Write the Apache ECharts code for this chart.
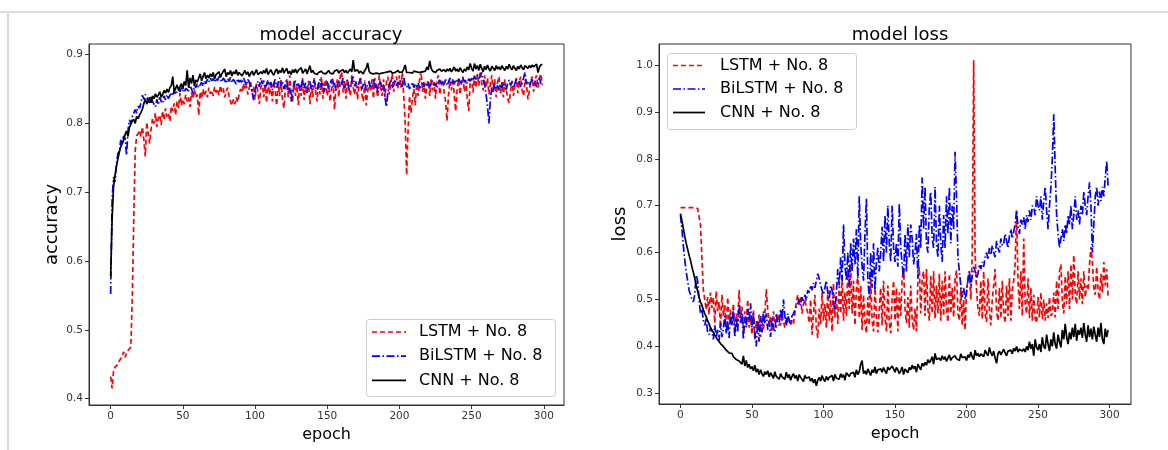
<!DOCTYPE html>
<html><head><meta charset="utf-8">
<script src="https://cdn.jsdelivr.net/npm/echarts@6/dist/echarts.min.js"></script>
<style>html,body{margin:0;padding:0;background:#fff}#c{width:1168px;height:450px}</style>
</head><body><div id="c"></div>
<script>
const seriesNames = ['LSTM + No. 8', 'BiLSTM + No. 8', 'CNN + No. 8'];
const xTicks = [0, 50, 100, 150, 200, 250, 300];
const accTicks = [0.4, 0.5, 0.6, 0.7, 0.8, 0.9];
const lossTicks = [0.3, 0.4, 0.5, 0.6, 0.7, 0.8, 0.9, 1.0];

const accLSTM = [
0.432,0.415,0.440,0.446,0.445,0.450,0.455,0.458,0.462,0.468,
0.460,0.466,0.470,0.472,0.475,0.550,0.660,0.760,0.782,0.785,
0.790,0.781,0.795,0.776,0.752,0.802,0.785,0.771,0.792,0.807,
0.800,0.815,0.795,0.808,0.812,0.798,0.818,0.805,0.822,0.810,
0.815,0.803,0.825,0.818,0.829,0.812,0.832,0.822,0.844,0.826,
0.835,0.828,0.842,0.832,0.838,0.824,0.845,0.836,0.849,0.838,
0.842,0.812,0.846,0.836,0.850,0.840,0.847,0.838,0.852,0.843,
0.848,0.840,0.853,0.845,0.850,0.841,0.855,0.846,0.851,0.838,
0.846,0.852,0.840,0.832,0.826,0.835,0.828,0.838,0.831,0.843,
0.850,0.845,0.858,0.849,0.855,0.842,0.852,0.860,0.846,0.854,
0.835,0.858,0.845,0.828,0.852,0.862,0.838,0.855,0.830,0.860,
0.842,0.856,0.832,0.861,0.847,0.826,0.858,0.840,0.863,0.835,
0.822,0.850,0.864,0.838,0.870,0.845,0.830,0.862,0.840,0.855,
0.827,0.858,0.840,0.866,0.834,0.853,0.845,0.862,0.828,0.856,
0.838,0.866,0.846,0.832,0.860,0.842,0.868,0.836,0.855,0.864,
0.840,0.858,0.832,0.850,0.866,0.820,0.852,0.864,0.838,0.868,
0.875,0.845,0.862,0.836,0.865,0.850,0.840,0.870,0.852,0.842,
0.862,0.835,0.856,0.868,0.842,0.832,0.860,0.826,0.845,0.862,
0.846,0.864,0.836,0.866,0.850,0.838,0.870,0.852,0.840,0.864,
0.838,0.860,0.868,0.842,0.858,0.872,0.846,0.862,0.868,0.850,
0.870,0.852,0.875,0.840,0.800,0.725,0.790,0.840,0.815,0.836,
0.850,0.826,0.858,0.840,0.864,0.876,0.846,0.860,0.836,0.856,
0.862,0.840,0.866,0.848,0.860,0.836,0.864,0.870,0.842,0.856,
0.864,0.845,0.832,0.804,0.842,0.862,0.848,0.866,0.840,0.818,
0.850,0.864,0.842,0.860,0.868,0.846,0.862,0.836,0.818,0.858,
0.866,0.845,0.870,0.852,0.872,0.855,0.876,0.858,0.848,0.870,
0.852,0.866,0.842,0.858,0.870,0.846,0.864,0.838,0.860,0.868,
0.844,0.860,0.838,0.864,0.850,0.836,0.830,0.848,0.862,0.840,
0.856,0.866,0.844,0.860,0.868,0.848,0.840,0.864,0.856,0.835,
0.848,0.862,0.868,0.846,0.864,0.870,0.852,0.866,0.872,0.856];

const accBiLSTM = [
0.552,0.690,0.722,0.715,0.740,0.756,0.760,0.776,0.770,0.782,
0.778,0.754,0.790,0.805,0.800,0.810,0.812,0.820,0.815,0.825,
0.822,0.830,0.841,0.835,0.842,0.838,0.836,0.830,0.840,0.832,
0.828,0.824,0.835,0.827,0.838,0.832,0.829,0.840,0.834,0.842,
0.836,0.838,0.845,0.840,0.848,0.842,0.844,0.850,0.846,0.852,
0.848,0.845,0.851,0.853,0.847,0.855,0.850,0.844,0.856,0.852,
0.858,0.852,0.856,0.860,0.854,0.862,0.858,0.864,0.860,0.866,
0.862,0.865,0.860,0.866,0.862,0.868,0.864,0.860,0.866,0.863,
0.858,0.865,0.861,0.867,0.859,0.864,0.862,0.857,0.865,0.860,
0.863,0.858,0.866,0.861,0.855,0.864,0.860,0.852,0.846,0.834,
0.848,0.856,0.861,0.853,0.866,0.858,0.862,0.851,0.857,0.863,
0.855,0.860,0.849,0.858,0.864,0.852,0.859,0.866,0.854,0.861,
0.850,0.858,0.863,0.845,0.852,0.832,0.849,0.857,0.862,0.853,
0.858,0.847,0.855,0.863,0.851,0.859,0.844,0.856,0.861,0.850,
0.857,0.863,0.852,0.848,0.858,0.864,0.853,0.860,0.846,0.855,
0.861,0.850,0.857,0.864,0.852,0.859,0.848,0.856,0.862,0.853,
0.858,0.866,0.851,0.857,0.863,0.849,0.856,0.862,0.868,0.854,
0.860,0.852,0.858,0.865,0.850,0.857,0.862,0.848,0.855,0.861,
0.853,0.859,0.864,0.851,0.857,0.846,0.854,0.860,0.849,0.856,
0.838,0.824,0.845,0.856,0.862,0.851,0.858,0.864,0.855,0.860,
0.857,0.862,0.853,0.868,0.856,0.852,0.858,0.850,0.855,0.860,
0.852,0.857,0.854,0.859,0.851,0.856,0.861,0.853,0.858,0.855,
0.860,0.853,0.857,0.862,0.855,0.858,0.851,0.859,0.863,0.856,
0.861,0.857,0.864,0.855,0.860,0.866,0.858,0.862,0.857,0.864,
0.859,0.865,0.861,0.857,0.866,0.860,0.863,0.858,0.865,0.861,
0.867,0.862,0.868,0.864,0.870,0.865,0.869,0.874,0.863,0.858,
0.842,0.826,0.800,0.835,0.852,0.845,0.858,0.850,0.855,0.848,
0.857,0.852,0.860,0.854,0.849,0.858,0.863,0.855,0.860,0.852,
0.858,0.864,0.856,0.861,0.853,0.859,0.866,0.874,0.857,0.862,
0.855,0.860,0.864,0.857,0.862,0.853,0.860,0.866,0.858,0.855];

const accCNN = [
0.578,0.660,0.708,0.724,0.738,0.748,0.758,0.766,0.771,0.776,
0.784,0.789,0.781,0.794,0.799,0.803,0.806,0.800,0.810,0.807,
0.812,0.816,0.821,0.829,0.836,0.828,0.833,0.838,0.830,0.840,
0.836,0.843,0.838,0.841,0.846,0.838,0.842,0.848,0.844,0.850,
0.845,0.852,0.855,0.868,0.846,0.851,0.856,0.848,0.853,0.858,
0.850,0.861,0.855,0.877,0.852,0.866,0.858,0.870,0.855,0.863,
0.860,0.866,0.872,0.862,0.868,0.874,0.865,0.870,0.866,0.872,
0.868,0.874,0.865,0.871,0.869,0.875,0.867,0.872,0.870,0.879,
0.868,0.874,0.871,0.877,0.869,0.875,0.872,0.878,0.870,0.874,
0.876,0.869,0.873,0.877,0.871,0.875,0.868,0.873,0.876,0.870,
0.874,0.878,0.871,0.869,0.875,0.872,0.877,0.873,0.880,0.871,
0.875,0.878,0.873,0.870,0.876,0.879,0.872,0.877,0.874,0.881,
0.873,0.877,0.880,0.872,0.876,0.871,0.878,0.874,0.879,0.873,
0.877,0.875,0.881,0.873,0.876,0.879,0.872,0.878,0.884,0.874,
0.877,0.873,0.875,0.871,0.874,0.872,0.876,0.873,0.875,0.872,
0.874,0.877,0.873,0.875,0.872,0.876,0.874,0.878,0.873,0.876,
0.875,0.878,0.874,0.877,0.873,0.876,0.879,0.875,0.892,0.876,
0.874,0.878,0.873,0.876,0.875,0.872,0.877,0.880,0.888,0.876,
0.873,0.875,0.872,0.874,0.873,0.875,0.872,0.874,0.873,0.875,
0.874,0.873,0.875,0.874,0.876,0.873,0.875,0.874,0.873,0.877,
0.874,0.876,0.875,0.879,0.885,0.874,0.876,0.874,0.875,0.873,
0.876,0.874,0.875,0.877,0.874,0.876,0.875,0.874,0.876,0.882,
0.878,0.891,0.880,0.876,0.878,0.874,0.877,0.875,0.879,0.876,
0.874,0.878,0.875,0.879,0.876,0.880,0.875,0.878,0.882,0.876,
0.879,0.875,0.881,0.877,0.874,0.879,0.876,0.882,0.878,0.887,
0.880,0.876,0.887,0.879,0.884,0.877,0.886,0.880,0.875,0.883,
0.878,0.885,0.879,0.876,0.883,0.880,0.877,0.884,0.879,0.882,
0.878,0.884,0.880,0.877,0.883,0.879,0.886,0.881,0.878,0.884,
0.880,0.877,0.883,0.879,0.885,0.881,0.878,0.884,0.882,0.880,
0.884,0.881,0.885,0.882,0.883,0.886,0.874,0.882,0.885,0.886];

const lossLSTM = [
0.696,0.696,0.696,0.696,0.696,0.696,0.696,0.696,0.696,0.696,
0.696,0.695,0.694,0.690,0.660,0.590,0.520,0.500,0.478,0.505,
0.468,0.515,0.482,0.505,0.450,0.518,0.475,0.495,0.440,0.510,
0.465,0.488,0.430,0.505,0.455,0.478,0.445,0.492,0.428,0.470,
0.452,0.520,0.460,0.485,0.435,0.475,0.450,0.500,0.440,0.462,
0.425,0.478,0.415,0.455,0.440,0.468,0.420,0.458,0.435,0.470,
0.522,0.480,0.445,0.465,0.432,0.475,0.450,0.440,0.468,0.455,
0.445,0.470,0.452,0.440,0.462,0.450,0.458,0.445,0.455,0.448,
0.470,0.495,0.510,0.488,0.505,0.470,0.490,0.500,0.482,0.472,
0.450,0.500,0.425,0.470,0.510,0.440,0.418,0.480,0.448,0.515,
0.455,0.490,0.440,0.520,0.455,0.500,0.432,0.535,0.462,0.510,
0.448,0.530,0.470,0.550,0.455,0.515,0.465,0.565,0.480,0.575,
0.470,0.540,0.445,0.520,0.555,0.460,0.530,0.435,0.510,0.450,
0.428,0.505,0.445,0.545,0.455,0.432,0.525,0.465,0.430,0.480,
0.525,0.445,0.540,0.462,0.432,0.530,0.450,0.428,0.505,0.540,
0.455,0.525,0.432,0.515,0.465,0.545,0.567,0.480,0.450,0.505,
0.440,0.530,0.458,0.435,0.480,0.432,0.540,0.570,0.470,0.545,
0.560,0.465,0.565,0.480,0.455,0.550,0.470,0.560,0.460,0.530,
0.470,0.555,0.455,0.540,0.465,0.560,0.480,0.452,0.555,0.470,
0.525,0.462,0.545,0.562,0.470,0.455,0.525,0.445,0.500,0.435,
0.520,0.545,0.560,0.500,0.600,1.010,0.600,0.520,0.480,0.465,
0.540,0.458,0.560,0.470,0.452,0.545,0.480,0.445,0.500,0.530,
0.565,0.475,0.455,0.525,0.460,0.540,0.470,0.450,0.530,0.465,
0.545,0.455,0.520,0.540,0.575,0.690,0.540,0.480,0.560,0.465,
0.630,0.490,0.470,0.545,0.460,0.525,0.455,0.510,0.460,0.450,
0.505,0.462,0.515,0.458,0.500,0.455,0.492,0.460,0.505,0.465,
0.470,0.515,0.462,0.540,0.480,0.560,0.575,0.495,0.470,0.550,
0.490,0.560,0.480,0.575,0.500,0.595,0.510,0.490,0.560,0.500,
0.545,0.490,0.560,0.505,0.530,0.520,0.575,0.612,0.580,0.525,
0.510,0.570,0.520,0.500,0.555,0.515,0.580,0.530,0.565,0.505];

const lossBiLSTM = [
0.680,0.650,0.615,0.585,0.560,0.540,0.520,0.510,0.500,0.495,
0.510,0.552,0.540,0.500,0.470,0.480,0.455,0.445,0.460,0.430,
0.425,0.440,0.432,0.415,0.445,0.420,0.435,0.412,0.450,0.420,
0.440,0.465,0.428,0.455,0.418,0.470,0.445,0.480,0.420,0.460,
0.430,0.490,0.450,0.470,0.415,0.462,0.440,0.480,0.455,0.492,
0.440,0.470,0.425,0.400,0.455,0.410,0.465,0.430,0.475,0.448,
0.470,0.435,0.455,0.420,0.462,0.440,0.430,0.470,0.450,0.445,
0.480,0.455,0.500,0.465,0.445,0.470,0.455,0.448,0.465,0.470,
0.478,0.485,0.490,0.500,0.488,0.505,0.495,0.510,0.498,0.520,
0.515,0.530,0.520,0.535,0.525,0.540,0.555,0.545,0.530,0.520,
0.510,0.525,0.540,0.515,0.500,0.530,0.520,0.490,0.478,0.515,
0.565,0.530,0.590,0.540,0.660,0.575,0.540,0.600,0.530,0.620,
0.560,0.630,0.575,0.650,0.545,0.720,0.620,0.570,0.540,0.640,
0.715,0.545,0.505,0.600,0.525,0.620,0.520,0.580,0.610,0.560,
0.600,0.655,0.580,0.680,0.600,0.700,0.620,0.580,0.700,0.610,
0.580,0.620,0.570,0.705,0.610,0.575,0.545,0.640,0.560,0.660,
0.590,0.660,0.630,0.575,0.600,0.640,0.545,0.660,0.610,0.760,
0.650,0.740,0.620,0.600,0.700,0.730,0.630,0.610,0.740,0.620,
0.590,0.700,0.620,0.580,0.680,0.610,0.720,0.640,0.740,0.620,
0.700,0.650,0.815,0.720,0.590,0.560,0.530,0.505,0.525,0.500,
0.515,0.540,0.560,0.530,0.550,0.570,0.560,0.545,0.555,0.575,
0.565,0.580,0.570,0.590,0.600,0.585,0.610,0.595,0.615,0.600,
0.590,0.625,0.610,0.600,0.630,0.615,0.620,0.640,0.625,0.610,
0.635,0.650,0.630,0.645,0.660,0.690,0.655,0.640,0.670,0.660,
0.675,0.650,0.680,0.665,0.690,0.670,0.700,0.695,0.680,0.720,
0.700,0.690,0.720,0.670,0.710,0.740,0.690,0.650,0.700,0.740,
0.800,0.895,0.780,0.680,0.640,0.610,0.630,0.650,0.625,0.660,
0.640,0.680,0.660,0.700,0.650,0.680,0.720,0.670,0.690,0.660,
0.700,0.680,0.730,0.700,0.680,0.720,0.750,0.700,0.600,0.660,
0.720,0.740,0.700,0.730,0.710,0.740,0.720,0.760,0.795,0.740];

const lossCNN = [
0.683,0.668,0.652,0.635,0.620,0.608,0.595,0.584,0.570,0.558,
0.545,0.530,0.518,0.505,0.495,0.488,0.478,0.470,0.463,0.455,
0.448,0.440,0.436,0.430,0.424,0.420,0.414,0.410,0.406,0.402,
0.400,0.396,0.392,0.390,0.386,0.383,0.385,0.378,0.375,0.372,
0.374,0.369,0.366,0.362,0.380,0.358,0.370,0.355,0.362,0.352,
0.357,0.348,0.360,0.345,0.352,0.340,0.350,0.342,0.336,0.346,
0.340,0.348,0.335,0.344,0.338,0.332,0.346,0.336,0.340,0.330,
0.342,0.335,0.338,0.330,0.345,0.333,0.340,0.328,0.336,0.342,
0.332,0.338,0.326,0.340,0.334,0.330,0.325,0.338,0.332,0.328,
0.335,0.326,0.332,0.322,0.330,0.316,0.328,0.334,0.326,0.338,
0.330,0.325,0.336,0.328,0.334,0.330,0.338,0.326,0.340,0.332,
0.336,0.330,0.342,0.334,0.340,0.328,0.344,0.346,0.336,0.342,
0.338,0.345,0.334,0.350,0.340,0.346,0.362,0.370,0.342,0.348,
0.340,0.352,0.345,0.338,0.350,0.344,0.356,0.342,0.350,0.346,
0.352,0.345,0.355,0.348,0.342,0.356,0.350,0.346,0.358,0.352,
0.345,0.355,0.350,0.342,0.348,0.356,0.340,0.352,0.348,0.344,
0.355,0.350,0.360,0.352,0.358,0.345,0.362,0.356,0.350,0.364,
0.358,0.366,0.360,0.372,0.365,0.370,0.378,0.362,0.385,0.372,
0.368,0.375,0.370,0.380,0.372,0.378,0.368,0.375,0.382,0.370,
0.376,0.372,0.380,0.374,0.378,0.370,0.384,0.376,0.372,0.378,
0.370,0.382,0.376,0.388,0.378,0.372,0.392,0.380,0.385,0.378,
0.384,0.388,0.378,0.392,0.385,0.380,0.398,0.386,0.380,0.390,
0.375,0.364,0.385,0.390,0.382,0.388,0.394,0.386,0.380,0.390,
0.386,0.392,0.384,0.396,0.390,0.400,0.388,0.394,0.398,0.390,
0.395,0.388,0.400,0.392,0.410,0.395,0.405,0.380,0.415,0.398,
0.392,0.405,0.388,0.420,0.400,0.395,0.425,0.405,0.390,0.415,
0.400,0.430,0.405,0.395,0.425,0.410,0.398,0.435,0.415,0.448,
0.420,0.405,0.430,0.415,0.440,0.420,0.448,0.412,0.435,0.425,
0.440,0.418,0.450,0.425,0.410,0.445,0.420,0.438,0.415,0.442,
0.425,0.410,0.440,0.420,0.450,0.415,0.405,0.438,0.420,0.435];

const pairs = arr => arr.map((v, i) => [i, v]);
const FONT = 'DejaVu Sans';
const LW = 1.7;

const styles = [
  { color: '#ff0000', type: [5, 3] },
  { color: '#0000ff', type: [8, 2.5, 1.5, 2.5] },
  { color: '#000000', type: 'solid' }
];

function xAxisCfg(gridIndex, min, max) {
  return {
    type: 'value', gridIndex, min, max,
    name: 'epoch', nameLocation: 'middle', nameGap: 20,
    nameTextStyle: { fontFamily: FONT, fontSize: 16, color: '#000' },
    splitLine: { show: false },
    axisLine: { show: true, onZero: false, lineStyle: { color: '#333', width: 1 } },
    axisTick: { show: true, customValues: xTicks, length: 4, lineStyle: { color: '#333' } },
    axisLabel: { customValues: xTicks, fontFamily: FONT, fontSize: 10.5, color: '#333', margin: 6 }
  };
}
function yAxisCfg(gridIndex, min, max, ticks, name, gap) {
  return {
    type: 'value', gridIndex, min, max,
    name, nameLocation: 'middle', nameGap: gap,
    nameTextStyle: { fontFamily: FONT, fontSize: 18, color: '#000' },
    splitLine: { show: false },
    axisLine: { show: true, onZero: false, lineStyle: { color: '#333', width: 1 } },
    axisTick: { show: true, customValues: ticks, length: 4, lineStyle: { color: '#333' } },
    axisLabel: { customValues: ticks, fontFamily: FONT, fontSize: 10.5, color: '#333', margin: 6,
      formatter: v => v.toFixed(1) }
  };
}

const accSets = [accLSTM, accBiLSTM, accCNN];
const lossSets = [lossLSTM, lossBiLSTM, lossCNN];
const series = [];
accSets.forEach((arr, k) => series.push({
  type: 'line', name: seriesNames[k], xAxisIndex: 0, yAxisIndex: 0,
  data: pairs(arr), symbol: 'none', showSymbol: false, z: 2 + k,
  lineStyle: { color: styles[k].color, type: styles[k].type, width: LW },
  itemStyle: { color: styles[k].color }
}));
lossSets.forEach((arr, k) => series.push({
  type: 'line', name: seriesNames[k], xAxisIndex: 1, yAxisIndex: 1,
  data: pairs(arr), symbol: 'none', showSymbol: false, z: 2 + k,
  lineStyle: { color: styles[k].color, type: styles[k].type, width: LW },
  itemStyle: { color: styles[k].color }
}));

// legend boxes drawn as graphic groups (dashed sample lines like the reference)
function legendGroup(x, y, w, h, rowTop, rowGap, lineX1, lineX2, textX) {
  const children = [{
    type: 'rect', shape: { x: x, y: y, width: w, height: h, r: 3 },
    style: { fill: 'rgba(255,255,255,0.85)', stroke: '#cccccc', lineWidth: 1 }
  }];
  seriesNames.forEach((nm, k) => {
    const cy = rowTop + k * rowGap;
    const dash = Array.isArray(styles[k].type) ? styles[k].type : null;
    children.push({
      type: 'line', shape: { x1: lineX1, y1: cy, x2: lineX2, y2: cy },
      style: { stroke: styles[k].color, lineWidth: LW, lineDash: dash }
    });
    children.push({
      type: 'text', x: textX, y: cy,
      style: { text: nm, fill: '#000', font: '16px "DejaVu Sans"', verticalAlign: 'middle', align: 'left' }
    });
  });
  return { type: 'group', silent: true, z: 100, children };
}

const chart = echarts.init(document.getElementById('c'), null, { renderer: 'canvas' });
chart.setOption({
  animation: false,
  backgroundColor: '#ffffff',
  title: [
    { text: 'model accuracy', left: 326, top: 21, textAlign: 'center',
      textStyle: { fontFamily: FONT, fontSize: 18, fontWeight: 'normal', color: '#000' } },
    { text: 'model loss', left: 895, top: 21, textAlign: 'center',
      textStyle: { fontFamily: FONT, fontSize: 18, fontWeight: 'normal', color: '#000' } }
  ],
  grid: [
    { left: 89, top: 44, width: 475, height: 361, show: true, borderColor: '#333', borderWidth: 1, backgroundColor: 'transparent' },
    { left: 659, top: 44, width: 472, height: 360, show: true, borderColor: '#333', borderWidth: 1, backgroundColor: 'transparent' }
  ],
  xAxis: [xAxisCfg(0, -15, 314), xAxisCfg(1, -15, 315)],
  yAxis: [
    yAxisCfg(0, 0.3908, 0.9154, accTicks, 'accuracy', 28),
    yAxisCfg(1, 0.2772, 1.0448, lossTicks, 'loss', 30)
  ],
  graphic: [
    { type: 'line', shape: { x1: 0, y1: 12, x2: 1168, y2: 12 }, style: { stroke: '#dcdcdc', lineWidth: 2 }, silent: true },
    { type: 'line', shape: { x1: 8, y1: 12, x2: 8, y2: 450 }, style: { stroke: '#dcdcdc', lineWidth: 2 }, silent: true },
    legendGroup(366.5, 319.5, 189, 77, 332, 24.2, 372, 406, 419),
    legendGroup(667.5, 53.5, 189, 76, 65.5, 23.5, 673, 705, 720)
  ],
  series
});
</script>
</body></html>
